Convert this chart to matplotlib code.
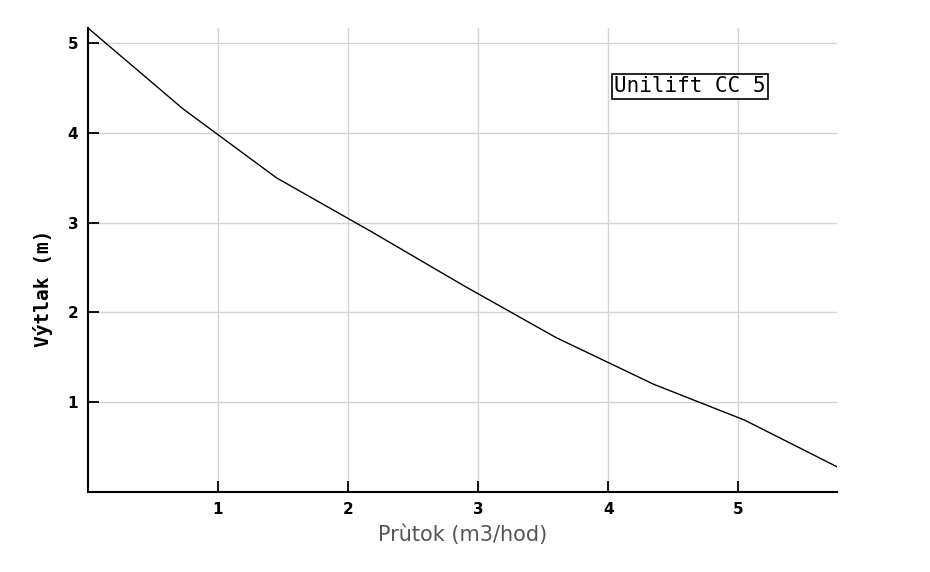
import numpy as np
import matplotlib
matplotlib.use('Agg')
import matplotlib.pyplot as plt

# Krivka cerpadla Unilift CC 5
prutok = [0, 0.73, 1.45, 2.18, 2.9, 3.6, 4.35, 5.05, 5.76]
vytlak = [5.17, 4.27, 3.5, 2.9, 2.29, 1.72, 1.2, 0.8, 0.28]
xticks = [1, 2, 3, 4, 5]
yticks = [1, 2, 3, 4, 5]
nazev = 'Unilift CC 5'

fig = plt.figure(figsize=(9.3, 5.72), dpi=100)
ax = fig.add_axes([0.0946, 0.14, 0.8054, 0.811])

ax.plot(prutok, vytlak, color='black', lw=1.0)
ax.set_xlim(0, 5.76)
ax.set_ylim(0, 5.17)

ax.set_xticks(xticks)
ax.set_yticks(yticks)
ax.grid(True, color='#d4d4d4', lw=1.0)
ax.set_axisbelow(True)

for s in ['top', 'right']:
    ax.spines[s].set_visible(False)
for s in ['left', 'bottom']:
    ax.spines[s].set_linewidth(1.5)

ax.tick_params(direction='in', length=8, width=1.3, pad=7)
for lab in ax.get_xticklabels() + ax.get_yticklabels():
    lab.set_fontweight('bold')
    lab.set_fontsize(11)

ax.set_xlabel('Prùtok (m3/hod)', fontsize=15, color='#555555',
              family='Liberation Sans Narrow', labelpad=6)
# popisek osy y je posunuty dolu jako v originalu
fig.text(43 / 930, 1 - 288 / 572, 'Výtlak (m)', rotation=90, fontsize=14,
         fontweight='bold', family='DejaVu Sans Mono', ha='center', va='center')

ax.text(4.63, 4.52, nazev, fontsize=15, family='DejaVu Sans Mono',
        ha='center', va='center',
        bbox=dict(boxstyle='square,pad=0.12', fc='white', ec='black', lw=1.2))

fig.savefig('out.png', dpi=100)
